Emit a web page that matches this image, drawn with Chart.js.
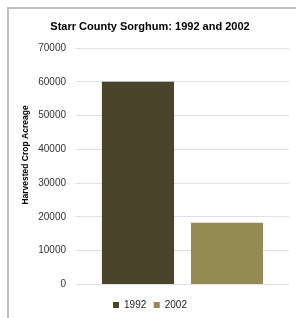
<!DOCTYPE html>
<html>
<head>
<meta charset="utf-8">
<script src="https://cdn.jsdelivr.net/npm/chart.js@4"></script>
<style>
  body { margin: 0; background: #fff; }
  #frame { position: absolute; left: 7px; top: 7px; width: 289px; height: 311px;
           border-left: 2px solid #bdbdbd; border-top: 2px solid #bdbdbd; box-sizing: border-box; }
  #wrap { position: absolute; left: 2px; top: 2px; width: 287px; height: 309px; }
</style>
</head>
<body>
<div id="frame"><div id="wrap"><canvas id="myChart"></canvas></div></div>
<script>
// data
var categories = [''];
var years = ['1992', '2002'];
var acreage1992 = [60000];
var acreage2002 = [18300];
var yTicks = [0, 10000, 20000, 30000, 40000, 50000, 60000, 70000];
var yTitle = 'Harvested Crop Acreage';

// y axis title drawn by hand so it can sit a little above the middle
var yTitlePlugin = {
    id: 'yTitlePlugin',
    afterDraw: function(chart) {
        var c = chart.ctx;
        c.save();
        c.translate(15, 144);
        c.rotate(-Math.PI / 2);
        c.fillStyle = '#000';
        c.font = 'bold 8.5px "Liberation Sans"';
        c.textAlign = 'center';
        c.textBaseline = 'middle';
        c.fillText(yTitle, 0, 0);
        c.restore();
    }
};

var ctx = document.getElementById('myChart').getContext('2d');
var chart = new Chart(ctx, {
    type: 'bar',
    data: {
        labels: categories,
        datasets: [{
            label: years[0],
            data: acreage1992,
            backgroundColor: '#4a452a',
            categoryPercentage: 0.836,
            barPercentage: 0.81
        }, {
            label: years[1],
            data: acreage2002,
            backgroundColor: '#948a54',
            categoryPercentage: 0.836,
            barPercentage: 0.81
        }]
    },
    options: {
        responsive: true,
        maintainAspectRatio: false,
        animation: false,
        layout: { padding: { top: 9, right: 9, bottom: 0, left: 0 } },
        plugins: {
            title: {
                display: true,
                text: 'Starr County Sorghum: 1992 and 2002',
                color: '#000',
                font: { family: 'Liberation Sans', size: 11, weight: 'bold' },
                padding: { top: 0, bottom: 14.8 }
            },
            legend: {
                position: 'bottom',
                labels: {
                    boxWidth: 6, boxHeight: 6,
                    color: '#222',
                    font: { family: 'Liberation Sans', size: 10 },
                    padding: 7.5
                }
            },
            tooltip: { enabled: false }
        },
        scales: {
            x: {
                grid: { display: false },
                border: { display: false },
                ticks: { display: false }
            },
            y: {
                min: 0,
                max: 70000,
                afterBuildTicks: function(scale) {
                    scale.ticks = yTicks.map(function(v) { return { value: v }; });
                },
                afterFit: function(scale) { scale.width = 65; },
                grid: { color: '#d9e0ea', lineWidth: 1, drawTicks: false },
                border: { display: false },
                ticks: {
                    color: '#333',
                    padding: 10,
                    font: { family: 'Liberation Sans', size: 10 },
                    callback: function(v) { return String(v); }
                }
            }
        }
    },
    plugins: [yTitlePlugin]
});
</script>
</body>
</html>
